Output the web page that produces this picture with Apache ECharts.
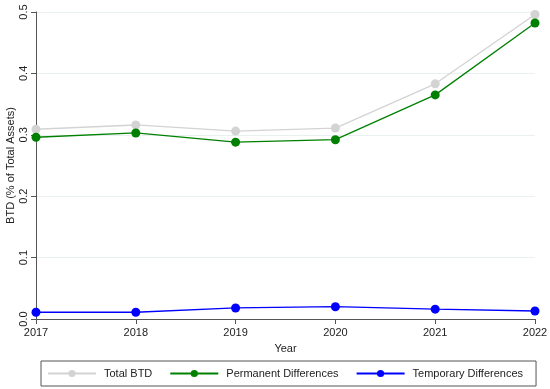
<!DOCTYPE html>
<html><head><meta charset="utf-8">
<script src="https://cdn.jsdelivr.net/npm/echarts@6/dist/echarts.min.js"></script>
<style>html,body{margin:0;padding:0;background:#fff}#c{width:550px;height:389px}</style>
</head><body><div id="c"></div>
<script>
var years = ['2017','2018','2019','2020','2021','2022'];
var totalBTD = [0.309, 0.316, 0.306, 0.311, 0.383, 0.496];
var permanentDiff = [0.296, 0.303, 0.288, 0.292, 0.365, 0.482];
var temporaryDiff = [0.011, 0.011, 0.018, 0.020, 0.016, 0.013];
var yTicks = [0, 0.1, 0.2, 0.3, 0.4, 0.5];

var chart = echarts.init(document.getElementById('c'));
var font = 'Liberation Sans, Arial, sans-serif';
function s(name, data, color) {
  return {name: name, type: 'line', data: data, symbol: 'circle', symbolSize: 9,
    lineStyle: {color: color, width: 1.3}, itemStyle: {color: color}};
}
chart.setOption({
  animation: false,
  grid: {left: 36, right: 15, top: 12, bottom: 70, containLabel: false, outerBoundsMode: 'none'},
  xAxis: {type: 'category', data: years, boundaryGap: false,
    name: 'Year', nameLocation: 'middle', nameGap: 24, nameMoveOverlap: false,
    nameTextStyle: {color: '#222', fontSize: 11, fontFamily: font},
    axisLine: {lineStyle: {color: '#555', width: 1}},
    axisTick: {show: true, length: 5, lineStyle: {color: '#555'}},
    axisLabel: {color: '#222', fontSize: 11, fontFamily: font, margin: 8},
    splitLine: {show: false}},
  yAxis: {type: 'value', min: 0, max: 0.5, interval: 0.1,
    name: 'BTD (% of Total Assets)', nameLocation: 'middle', nameGap: 20, nameMoveOverlap: false,
    nameTextStyle: {color: '#222', fontSize: 11, fontFamily: font},
    axisLine: {show: true, lineStyle: {color: '#555', width: 1}},
    axisTick: {show: true, length: 5, lineStyle: {color: '#555'}},
    axisLabel: {color: '#222', fontSize: 11, fontFamily: font, rotate: 90, margin: 7,
      formatter: function(v){ return yTicks.indexOf(Math.round(v*10)/10) >= 0 ? v.toFixed(1) : ''; }},
    splitLine: {show: true, lineStyle: {color: '#e8f0f1', width: 1}}},
  legend: {bottom: 3, left: 41, itemWidth: 48, itemHeight: 9, itemGap: 17,
    padding: [7, 13, 7, 6], borderColor: '#555', borderWidth: 1,
    textStyle: {color: '#222', fontSize: 11, fontFamily: font, padding: [0, 0, 0, 3]}},
  series: [s('Total BTD', totalBTD, '#d3d3d3'),
           s('Permanent Differences', permanentDiff, '#008000'),
           s('Temporary Differences', temporaryDiff, '#0000ff')]
});
</script></body></html>
